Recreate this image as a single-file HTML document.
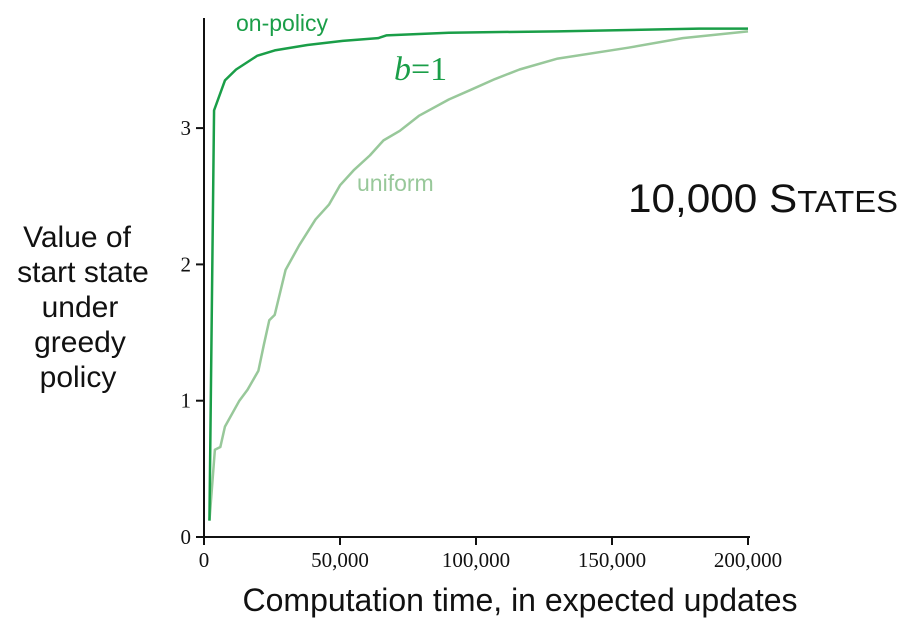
<!DOCTYPE html>
<html><head><meta charset="utf-8"><style>
body{margin:0;background:#fff;width:904px;height:628px;overflow:hidden}
svg{display:block}
.s{font-family:"Liberation Sans",sans-serif;fill:#111}
.t{font-family:"Liberation Serif",serif;font-size:21px;fill:#111}
</style></head><body>
<svg id="c" width="904" height="628">
<g class="s" font-size="30" text-anchor="middle">
<text x="77" y="247">Value of</text><text x="83" y="282">start state</text><text x="80" y="317">under</text><text x="80" y="352">greedy</text><text x="78" y="387">policy</text></g>
<text class="s" font-size="32" x="520" y="611" text-anchor="middle">Computation time, in expected updates</text>
<text class="s" font-size="40" x="628" y="212" textLength="270" lengthAdjust="spacingAndGlyphs">10,000 S<tspan font-size="31">TATES</tspan></text>
<text font-family="Liberation Sans,sans-serif" font-size="23" fill="#1a9e48" x="236" y="31">on-policy</text>
<text font-family="Liberation Serif,serif" font-size="34" fill="#1a9e48" x="394" y="80"><tspan font-style="italic">b</tspan>=1</text>
<text font-family="Liberation Sans,sans-serif" font-size="23" fill="#98c89a" x="357" y="191">uniform</text>
<g id="axes"></g>
<g id="series"></g>
</svg>
<script>
const xTicks=[0,50000,100000,150000,200000];
const xTickLabels=["0","50,000","100,000","150,000","200,000"];
const yTicks=[0,1,2,3];
const onT=[2000,3700,7700,11800,19500,26000,38000,51000,64000,67000,90000,130000,182000,200000];
const onV=[0.12,3.13,3.35,3.43,3.53,3.57,3.61,3.64,3.66,3.68,3.70,3.71,3.73,3.73];
const uT=[2000,4000,6000,7700,13000,16000,20000,22000,24000,26000,30000,35000,41000,46000,50000,55000,61000,66000,72000,79000,90000,98000,107000,116000,130000,156000,176000,200000];
const uV=[0.12,0.64,0.66,0.81,1.0,1.08,1.22,1.41,1.59,1.63,1.96,2.14,2.33,2.44,2.58,2.69,2.80,2.91,2.98,3.09,3.21,3.28,3.36,3.43,3.51,3.59,3.66,3.71];
const X=t=>204+t/200000*544, Y=v=>537-v*136.3;
const NS="http://www.w3.org/2000/svg";
const ax=document.getElementById('axes'), se=document.getElementById('series');
function mk(p,tag,at){const e=document.createElementNS(NS,tag);for(const k in at)e.setAttribute(k,at[k]);p.appendChild(e);return e;}
let l=mk(ax,'line',{x1:204,y1:18,x2:204,y2:538,stroke:'#111','stroke-width':2});


l=mk(ax,'line',{x1:203,y1:537,x2:750,y2:537,stroke:'#111','stroke-width':2});


xTicks.forEach((t,i)=>{
 const tk=mk(ax,'line',{x1:X(t),y1:537,x2:X(t),y2:545,stroke:'#111','stroke-width':2});
 
 
 const tx=mk(ax,'text',{x:X(t),y:567,'text-anchor':'middle',class:'t'});tx.textContent=xTickLabels[i];
 
 
});
yTicks.forEach(v=>{
 const tk=mk(ax,'line',{x1:196,y1:Y(v),x2:204,y2:Y(v),stroke:'#111','stroke-width':2});
 
 
 const tx=mk(ax,'text',{x:191,y:Y(v)+7,'text-anchor':'end',class:'t'});tx.textContent=v;
 
 
});
function line(T,V,col,name){
 const p=mk(se,'polyline',{points:T.map((t,i)=>X(t)+','+Y(V[i])).join(' '),fill:'none',stroke:col,'stroke-width':2.5,'stroke-linejoin':'round'});
 
 
}
line(uT,uV,'#98c89a','uniform-line');
line(onT,onV,'#1a9e48','on-policy-line');
</script>
</body></html>
